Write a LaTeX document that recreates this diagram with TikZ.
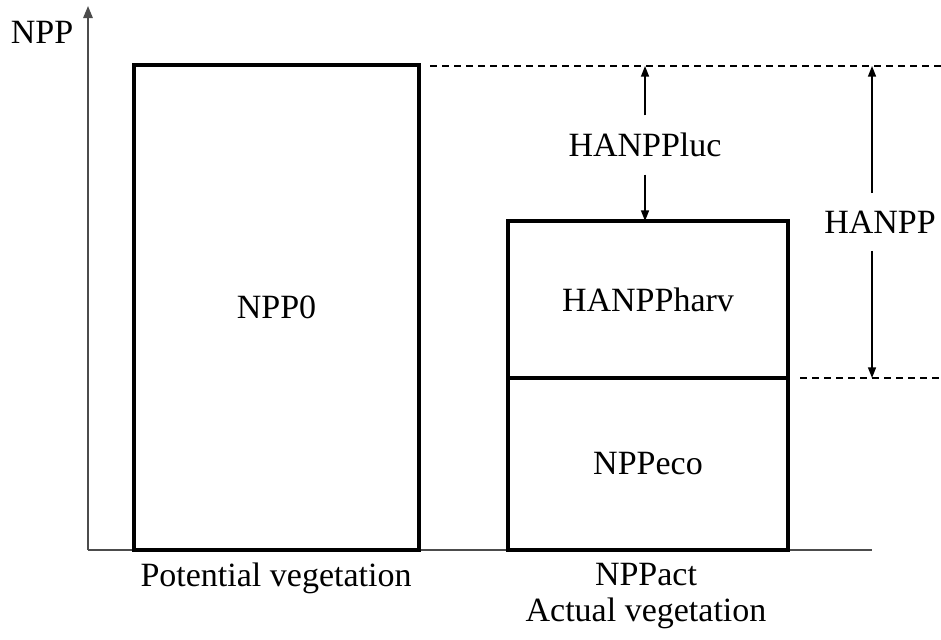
\documentclass[tikz,border=0pt]{standalone}
\usepackage{fontspec}
\setmainfont{Liberation Serif}
\usetikzlibrary{arrows.meta}

\begin{document}
\begin{tikzpicture}
	[x=0.75pt,y=-0.75pt,
	bar/.style ={draw, line width=2.5pt, outer sep=0pt, align=center, font=\fontsize{25.5}{26.5}\selectfont},
	lbl/.style ={font=\fontsize{25.5}{26.5}\selectfont, align=center, inner sep=1pt},
	dimlbl/.style ={lbl, inner xsep=1pt, inner ysep=13pt},
	axis/.style ={draw=black!70, line width=1.4pt},
	dim/.style ={line width=1.1pt, -{Triangle[length=8pt,width=6pt]}},
	guide/.style ={dashed, line width=0.8pt, dash pattern=on 5pt off 4pt}]
	\useasboundingbox (0,0) rectangle (941,639);
	% axes
	\coordinate (o) at (88,550);
	\coordinate (ytop) at (88,6);
	\coordinate (xend) at (872,550);
	\draw[axis, -{Triangle[length=9pt,width=7pt]}] (o) -- (ytop);
	\draw[axis] (o) -- (xend);
	\node[lbl] (npp) at (42,32) {NPP};
	% bars
	\node[bar, minimum width=213.75pt, minimum height=363.75pt, anchor=south west] (pot) at (134,550) {NPP0};
	\node[bar, minimum width=210pt, minimum height=129pt, anchor=south west] (eco) at (508,550) {NPPeco};
	\node[bar, minimum width=210pt, minimum height=117.75pt, anchor=south west] (harv) at (eco.north west) {HANPPharv};
	% labels below
	\node[lbl] (potlbl) at (276,578) {Potential vegetation};
	\node[lbl] (actlbl) at (646,596) {NPPact\\Actual vegetation};
	% guides
	\coordinate (g1) at (430,66);
	\coordinate (g2) at (941,66);
	\coordinate (g3) at (800,378);
	\coordinate (g4) at (941,378);
	\draw[guide] (g1) -- (g2);
	\draw[guide] (g3) -- (g4);
	% HANPPluc
	\node[dimlbl] (luc) at (645,145) {HANPPluc};
	\coordinate (luctop) at (645,66);
	\draw[dim] (luc) -- (luctop);
	\draw[dim] (luc) -- (luc |- harv.north);
	% HANPP
	\node[dimlbl] (hanpp) at (880,222) {HANPP};
	\coordinate (htop) at (872,66);
	\coordinate (hbot) at (872,378);
	\draw[dim] (hanpp.north -| htop) -- (htop);
	\draw[dim] (hanpp.south -| hbot) -- (hbot);
\end{tikzpicture}
\end{document}
